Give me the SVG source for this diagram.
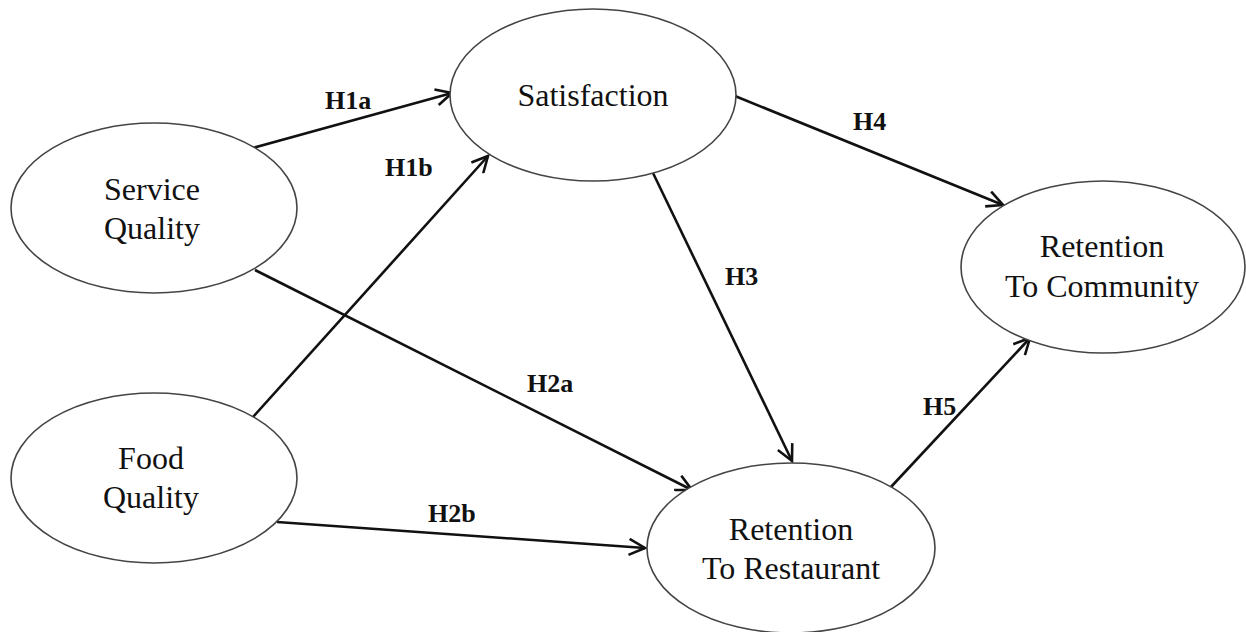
<svg xmlns="http://www.w3.org/2000/svg" width="1246" height="632" viewBox="0 0 1246 632">
<style>
.node ellipse{fill:#fff;stroke:#444;stroke-width:1.6}
.node text{font-family:"Liberation Serif","Times New Roman",serif;font-size:32px;fill:#111;text-anchor:middle}
.edges line{stroke:#111;stroke-width:2.6;marker-end:url(#arr)}
.lbl{font-family:"Liberation Serif","Times New Roman",serif;font-size:26px;font-weight:bold;fill:#111}
</style>
<defs>
<marker id="arr" viewBox="0 0 20 18" refX="17" refY="9" markerWidth="20" markerHeight="18" markerUnits="userSpaceOnUse" orient="auto">
<path d="M1,1 L17,9 L1,17" fill="none" stroke="#111" stroke-width="2.6"/>
</marker>
</defs>
<rect width="1246" height="632" fill="#fff"/>
<g id="edges" class="edges">
<line x1="253" y1="148" x2="452" y2="93"/>
<line x1="253" y1="417" x2="488" y2="156"/>
<line x1="255" y1="270" x2="692" y2="490"/>
<line x1="277" y1="522" x2="645" y2="548"/>
<line x1="653" y1="173" x2="792" y2="461"/>
<line x1="735" y1="96" x2="1003" y2="205"/>
<line x1="890" y1="488" x2="1030" y2="338"/>
</g>
<g id="edge-labels">
<text class="lbl" x="325" y="109">H1a</text>
<text class="lbl" x="385" y="176">H1b</text>
<text class="lbl" x="527" y="392">H2a</text>
<text class="lbl" x="428" y="522">H2b</text>
<text class="lbl" x="725" y="285">H3</text>
<text class="lbl" x="853" y="130">H4</text>
<text class="lbl" x="923" y="415">H5</text>
</g>
<g id="service-quality" class="node">
<ellipse cx="154" cy="208" rx="143" ry="85"/>
<text x="152" y="200">Service</text>
<text x="152" y="239">Quality</text>
</g>
<g id="food-quality" class="node">
<ellipse cx="154" cy="478" rx="143" ry="85"/>
<text x="151" y="469">Food</text>
<text x="151" y="508">Quality</text>
</g>
<g id="satisfaction" class="node">
<ellipse cx="593" cy="95" rx="143" ry="86"/>
<text x="593" y="106">Satisfaction</text>
</g>
<g id="retention-restaurant" class="node">
<ellipse cx="791" cy="548" rx="144" ry="85"/>
<text x="791" y="540">Retention</text>
<text x="791" y="579">To Restaurant</text>
</g>
<g id="retention-community" class="node">
<ellipse cx="1103" cy="267" rx="142" ry="86"/>
<text x="1102" y="257">Retention</text>
<text x="1102" y="297">To Community</text>
</g>
</svg>
